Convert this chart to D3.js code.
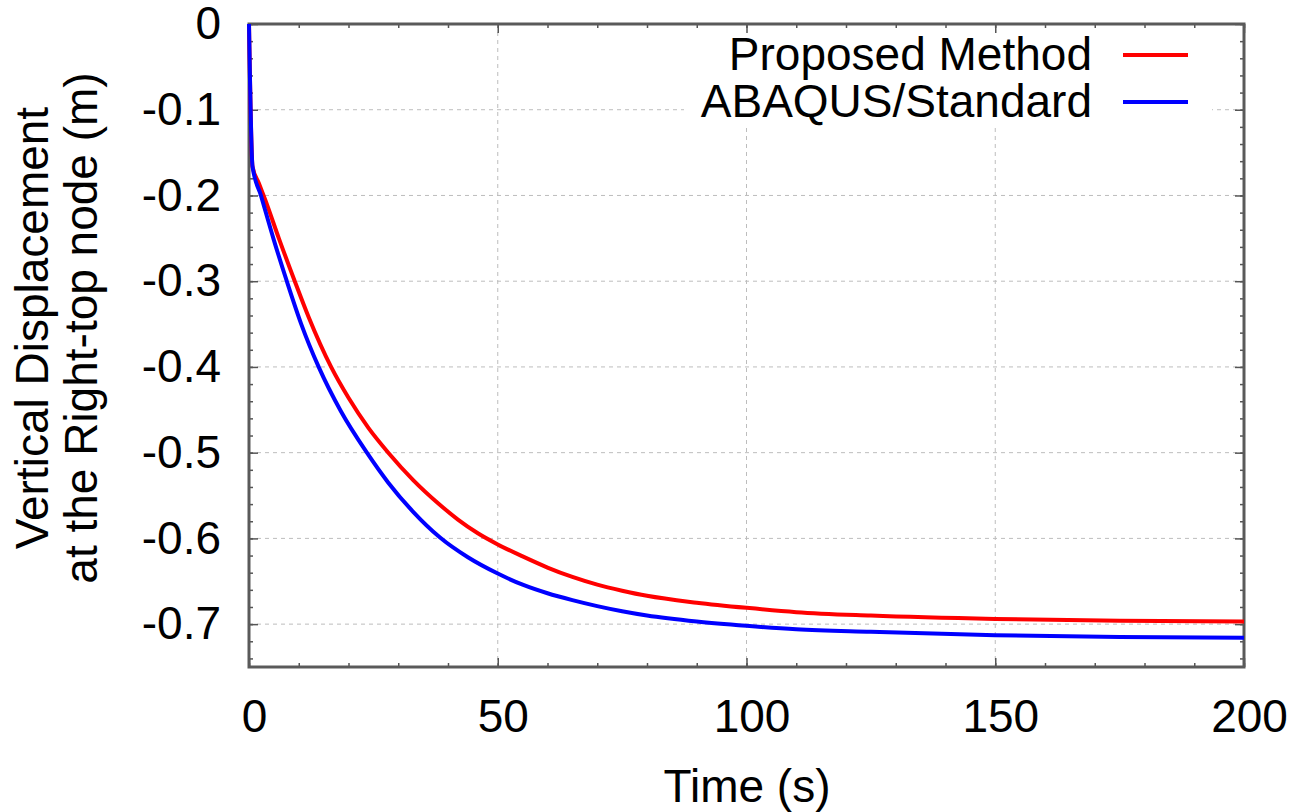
<!DOCTYPE html>
<html>
<head>
<meta charset="utf-8">
<script src="https://cdn.jsdelivr.net/npm/d3@7"></script>
<style>
  body { margin: 0; background: #fff; }
  svg { font-family: "Liberation Sans", Arial, sans-serif; }
  .axis text { font-size: 46px; fill: #000; }
  .axis path { display: none; }
  .axis line { stroke: #555; stroke-width: 1.5; }
</style>
</head>
<body>
<div id="chart"></div>
<script>
// values
var timeProposed = [0, 0.7, 2, 3.2, 6, 9.2, 12, 16.5, 20, 24, 28, 33, 38, 42, 46, 50, 55, 60, 65, 70, 75, 80, 90, 100, 110, 125, 150, 175, 200];
var dispProposed = [0, -0.166, -0.186, -0.204, -0.250, -0.300, -0.342, -0.400, -0.436, -0.471, -0.500, -0.532, -0.559, -0.578, -0.594, -0.607, -0.621, -0.634, -0.645, -0.654, -0.661, -0.667, -0.675, -0.681, -0.686, -0.690, -0.694, -0.696, -0.697];

var timeAbaqus = [0, 0.7, 2.4, 5, 7.6, 10.5, 14, 18.5, 23.7, 28, 33, 38.4, 44, 50, 55, 60, 65, 70, 75, 80, 90, 100, 110, 125, 150, 175, 200];
var dispAbaqus = [0, -0.166, -0.200, -0.252, -0.300, -0.350, -0.400, -0.452, -0.500, -0.535, -0.569, -0.599, -0.622, -0.641, -0.654, -0.664, -0.672, -0.679, -0.685, -0.690, -0.697, -0.702, -0.706, -0.709, -0.713, -0.715, -0.716];

var seriesNames = ["Proposed Method", "ABAQUS/Standard"];
var seriesColors = ["#ff0000", "#0000ff"];

var xTicks = [0, 50, 100, 150, 200];
var yTicks = [0, -0.1, -0.2, -0.3, -0.4, -0.5, -0.6, -0.7];
var yTickLabels = ["0", "-0.1", "-0.2", "-0.3", "-0.4", "-0.5", "-0.6", "-0.7"];
var xMinor = d3.range(0, 201, 10);
var yMinor = d3.range(0, 38).map(function(i){ return -i * 0.02; });

var cfg = {
    width: 1292,
    height: 812,
    left: 249, right: 1244, top: 24, bottom: 667
};

var svg = d3.select("#chart").append("svg")
    .attr("width", cfg.width)
    .attr("height", cfg.height);

var x = d3.scaleLinear().domain([0, 200]).range([cfg.left, cfg.right]);
var y = d3.scaleLinear().domain([-0.75, 0]).range([cfg.bottom, cfg.top]);

// grid
var grid = svg.append("g").attr("class", "grid")
    .attr("stroke", "#bdbdbd").attr("stroke-width", 1).attr("stroke-dasharray", "4,4");
grid.selectAll(".gx").data(xTicks.slice(1, -1)).enter().append("line")
    .attr("x1", function(d){ return x(d); }).attr("x2", function(d){ return x(d); })
    .attr("y1", cfg.top).attr("y2", cfg.bottom);
grid.selectAll(".gy").data(yTicks.slice(1)).enter().append("line")
    .attr("x1", cfg.left).attr("x2", cfg.right)
    .attr("y1", function(d){ return y(d); }).attr("y2", function(d){ return y(d); });

// key background hides the grid behind it
svg.append("rect")
    .attr("x", 684).attr("y", cfg.top + 4)
    .attr("width", 528).attr("height", 98)
    .attr("fill", "#fff");

// axes, ticks pointing inward on all four sides
svg.append("g").attr("class", "axis")
    .attr("transform", "translate(" + cfg.left + ",0)")
    .call(d3.axisLeft(y).tickValues(yTicks).tickSizeInner(-9).tickSizeOuter(0).tickPadding(28)
        .tickFormat(function(d, i){ return yTickLabels[i]; }));
svg.append("g").attr("class", "axis")
    .attr("transform", "translate(0," + cfg.bottom + ")")
    .call(d3.axisBottom(x).tickValues(xTicks).tickSizeInner(-9).tickSizeOuter(0).tickPadding(32))
    .selectAll("text").attr("dx", 5);
svg.append("g").attr("class", "axis")
    .attr("transform", "translate(" + cfg.right + ",0)")
    .call(d3.axisRight(y).tickValues(yTicks).tickSizeInner(-9).tickSizeOuter(0).tickFormat(""));
svg.append("g").attr("class", "axis")
    .attr("transform", "translate(0," + cfg.top + ")")
    .call(d3.axisTop(x).tickValues(xTicks).tickSizeInner(-9).tickSizeOuter(0).tickFormat(""));

// minor ticks
svg.append("g").attr("class", "axis")
    .attr("transform", "translate(" + cfg.left + ",0)")
    .call(d3.axisLeft(y).tickValues(yMinor).tickSize(-4).tickFormat(""));
svg.append("g").attr("class", "axis")
    .attr("transform", "translate(" + cfg.right + ",0)")
    .call(d3.axisRight(y).tickValues(yMinor).tickSize(-4).tickFormat(""));
svg.append("g").attr("class", "axis")
    .attr("transform", "translate(0," + cfg.bottom + ")")
    .call(d3.axisBottom(x).tickValues(xMinor).tickSize(-4).tickFormat(""));
svg.append("g").attr("class", "axis")
    .attr("transform", "translate(0," + cfg.top + ")")
    .call(d3.axisTop(x).tickValues(xMinor).tickSize(-4).tickFormat(""));

// frame
svg.append("rect")
    .attr("x", cfg.left).attr("y", cfg.top)
    .attr("width", cfg.right - cfg.left).attr("height", cfg.bottom - cfg.top)
    .attr("fill", "none").attr("stroke", "#5a5a5a").attr("stroke-width", 3);

// curves
var series = [
    {name: seriesNames[0], color: seriesColors[0], t: timeProposed, v: dispProposed},
    {name: seriesNames[1], color: seriesColors[1], t: timeAbaqus, v: dispAbaqus}
];

var line = d3.line()
    .x(function(d){ return x(d[0]); })
    .y(function(d){ return y(d[1]); })
    .curve(d3.curveMonotoneX);

svg.selectAll(".curve")
    .data(series)
    .enter().append("path")
    .attr("class", "curve")
    .attr("fill", "none")
    .attr("stroke", function(d){ return d.color; })
    .attr("stroke-width", 4)
    .attr("stroke-linejoin", "round")
    .attr("d", function(d){ return line(d3.zip(d.t, d.v)); });

// key
var legend = svg.selectAll(".legend")
    .data(series)
    .enter().append("g")
    .attr("class", "legend")
    .attr("transform", function(d, i){ return "translate(0," + (i * 47) + ")"; });

legend.append("text")
    .attr("x", 1092).attr("y", 70)
    .attr("text-anchor", "end")
    .style("font-size", "46px")
    .text(function(d){ return d.name; });

legend.append("line")
    .attr("x1", 1123).attr("x2", 1188)
    .attr("y1", 55).attr("y2", 55)
    .attr("stroke", function(d){ return d.color; })
    .attr("stroke-width", 4);

// axis titles
svg.append("text")
    .attr("x", 747).attr("y", 802)
    .attr("text-anchor", "middle")
    .style("font-size", "46px")
    .text("Time (s)");

var yTitle = ["Vertical Displacement", "at the Right-top node (m)"];
svg.selectAll(".ytitle")
    .data(yTitle)
    .enter().append("text")
    .attr("class", "ytitle")
    .attr("text-anchor", "middle")
    .attr("transform", function(d, i){ return "translate(" + (48 + i * 49) + ",328) rotate(-90)"; })
    .style("font-size", "46px")
    .text(function(d){ return d; });
</script>
</body>
</html>
